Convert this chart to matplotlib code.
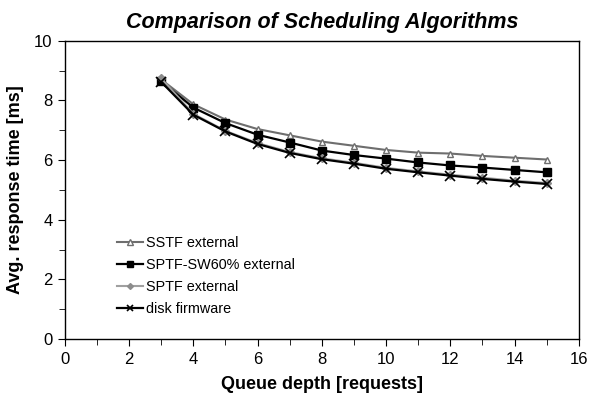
import matplotlib
matplotlib.use('Agg')
import matplotlib.pyplot as plt
from matplotlib.ticker import MultipleLocator

plt.rcParams['font.family'] = ['Liberation Sans', 'DejaVu Sans']

# inputs
queue_depth = [3, 4, 5, 6, 7, 8, 9, 10, 11, 12, 13, 14, 15]
sstf_ext = [8.70, 7.87, 7.36, 7.04, 6.83, 6.62, 6.48, 6.34, 6.25, 6.22, 6.14, 6.08, 6.02]
sptf_sw60 = [8.64, 7.76, 7.24, 6.85, 6.59, 6.32, 6.17, 6.05, 5.92, 5.82, 5.75, 5.67, 5.59]
sptf_ext = [8.74, 7.55, 6.98, 6.57, 6.27, 6.06, 5.91, 5.74, 5.62, 5.51, 5.41, 5.31, 5.23]
disk_fw = [8.62, 7.52, 6.96, 6.54, 6.24, 6.03, 5.88, 5.71, 5.59, 5.48, 5.37, 5.28, 5.20]

fig = plt.figure(figsize=(5.9, 4.08), dpi=100)
ax = fig.add_axes([0.110, 0.169, 0.871, 0.731])

ax.plot(queue_depth, sstf_ext, '-', color='#6e6e6e', lw=1.5, marker='^', ms=5,
        mfc='white', mec='#6e6e6e', mew=1, label='SSTF external')
ax.plot(queue_depth, sptf_sw60, '-', color='black', lw=1.6, marker='s', ms=5.5,
        mfc='black', mec='black', label='SPTF-SW60% external')
ax.plot(queue_depth, sptf_ext, '-', color='#a0a0a0', lw=1.5, marker='D', ms=4,
        mfc='#8c8c8c', mec='#8c8c8c', label='SPTF external')
ax.plot(queue_depth, disk_fw, '-', color='black', lw=1.6, marker='x', ms=6.5,
        mew=1.2, label='disk firmware')

ax.set_xlim(0, 16)
ax.set_ylim(0, 10)
ax.xaxis.set_major_locator(MultipleLocator(2))
ax.xaxis.set_minor_locator(MultipleLocator(1))
ax.yaxis.set_major_locator(MultipleLocator(2))
ax.yaxis.set_minor_locator(MultipleLocator(1))
ax.tick_params(which='both', direction='out', top=False, right=False, labelsize=12)
ax.tick_params(which='major', length=5, pad=4)
ax.tick_params(which='minor', length=4)
for s in ax.spines.values():
    s.set_linewidth(1)

ax.set_xlabel('Queue depth [requests]', fontsize=13, fontweight='bold', labelpad=7)
ax.set_ylabel('Avg. response time [ms]', fontsize=13, fontweight='bold', labelpad=7)
ax.set_title('Comparison of Scheduling Algorithms', fontsize=15.5, fontweight='bold',
             style='italic', pad=9)

ax.legend(loc='lower left', bbox_to_anchor=(0.09, 0.058), frameon=False, fontsize=10.4,
          handlelength=1.8, handletextpad=0.2, labelspacing=0.55, borderaxespad=0,
          markerscale=0.75)

plt.savefig('out.png', dpi=100)
